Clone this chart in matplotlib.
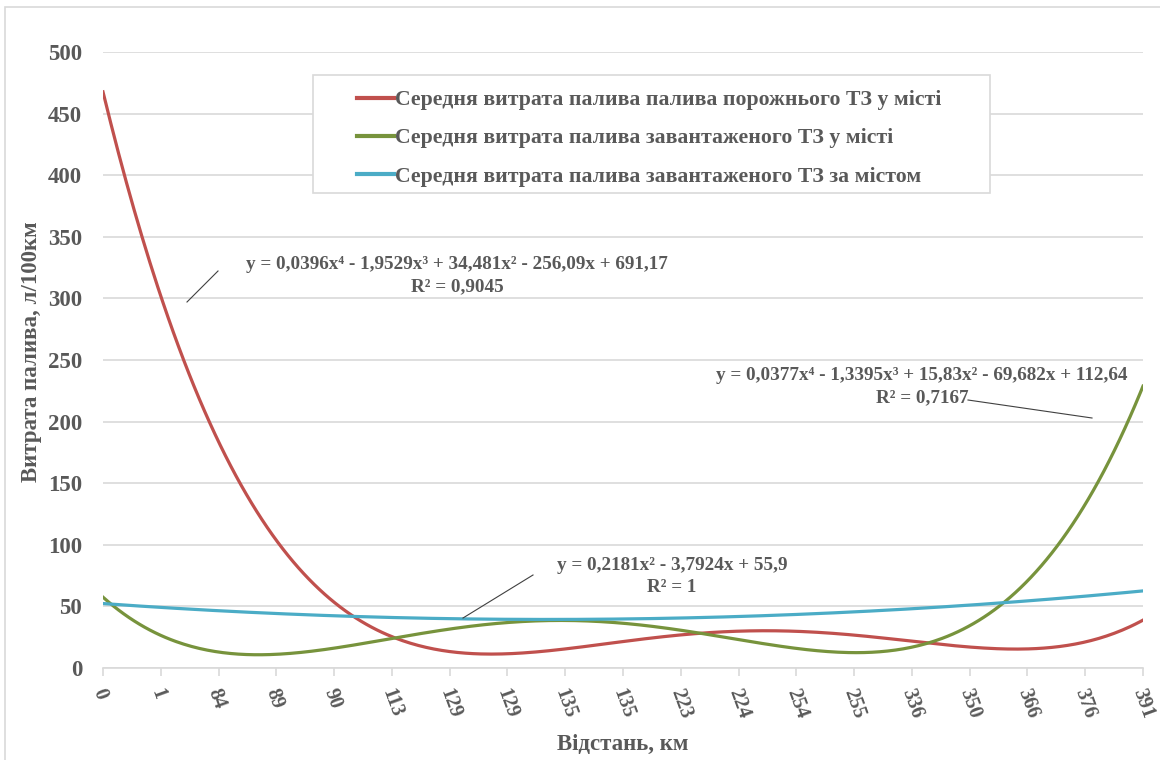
import numpy as np
import matplotlib.pyplot as plt
import matplotlib.transforms as mtransforms
from matplotlib.patches import Rectangle

# Distance labels along the category axis (km)
distances = ["0", "1", "84", "89", "90", "113", "129", "129", "135", "135",
             "223", "224", "254", "255", "336", "350", "366", "376", "391"]

# Trend-line coefficients, highest power first (x = category number 1..n)
empty_city = [0.0396, -1.9529, 34.481, -256.09, 691.17]
loaded_city = [0.0377, -1.3395, 15.83, -69.682, 112.64]
loaded_out = [0.2181, -3.7924, 55.9]

series_names = [
    "Середня витрата палива палива порожнього ТЗ у місті",
    "Середня витрата палива завантаженого ТЗ у місті",
    "Середня витрата палива завантаженого ТЗ за містом",
]
r_squared = ["0,9045", "0,7167", "1"]

RED = "#C0504D"
GREEN = "#77933C"
BLUE = "#4BACC6"
TEXT = "#595959"
GRID = "#D9D9D9"

plt.rcParams["font.family"] = "Liberation Serif"
plt.rcParams["font.weight"] = "bold"

W, H = 1160, 760


def fig_xy(px, py):
    return px / W, 1 - py / H


fig = plt.figure(figsize=(W / 100, H / 100), dpi=100)
ax = fig.add_axes([103 / W, 1 - 668 / H, (1143 - 103) / W, (668 - 52) / H])

# chart-area border (runs off the right and bottom edges)
fig.patches.append(Rectangle(fig_xy(5, 790), 1200 / W, 783 / H, transform=fig.transFigure,
                             fill=False, edgecolor=GRID, linewidth=1.2))

n = len(distances)
xs = np.linspace(1, n, 400)
handles = []
for coefs, color in zip([empty_city, loaded_city, loaded_out], [RED, GREEN, BLUE]):
    line, = ax.plot(xs, np.polyval(coefs, xs), color=color, linewidth=2.3)
    handles.append(line)

ax.set_xlim(1, n)
ax.set_ylim(0, 500)
ax.set_yticks(np.arange(0, 501, 50))
ax.set_xticks(np.arange(1, n + 1))
ax.tick_params(axis="x", length=6, color=GRID, width=1.2, pad=9)
ax.tick_params(axis="y", length=0, labelsize=16.5, labelcolor=TEXT, pad=15)
ax.set_xticklabels(distances, rotation=-70, ha="left", va="center",
                   rotation_mode="anchor", fontsize=14.5, color=TEXT)
shift = mtransforms.ScaledTranslation(-5 / 100, 0, fig.dpi_scale_trans)
for lab in ax.get_xticklabels():
    lab.set_transform(lab.get_transform() + shift)
for lab in ax.get_yticklabels():
    lab.set_fontweight("bold")
ax.grid(axis="y", color=GRID, linewidth=1.2)
ax.set_axisbelow(True)
for side in ["left", "right", "top"]:
    ax.spines[side].set_visible(False)
ax.spines["bottom"].set_color(GRID)
ax.spines["bottom"].set_linewidth(1.2)

fig.text(*fig_xy(32, 352), "Витрата палива, л/100км", fontsize=16.5, color=TEXT,
         fontweight="bold", rotation=90, ha="center", va="center")
fig.text(*fig_xy(623, 744), "Відстань, км", fontsize=16.5, color=TEXT,
         fontweight="bold", ha="center", va="center")

# legend: frame drawn separately so the padding can be uneven
frame = Rectangle(fig_xy(313, 193), (990 - 313) / W, (193 - 75) / H,
                  transform=fig.transFigure, facecolor="white",
                  edgecolor=GRID, linewidth=1.2, zorder=3, clip_on=False)
ax.add_artist(frame)
leg = ax.legend(handles, series_names, loc="upper left",
                bbox_to_anchor=fig_xy(357, 90), bbox_transform=fig.transFigure,
                frameon=False, fontsize=15.7, handlelength=1.7, handletextpad=0.05,
                labelspacing=0.82, borderpad=0, borderaxespad=0)
leg.set_zorder(4)
for t in leg.get_texts():
    t.set_color(TEXT)
    t.set_fontweight("bold")
for h in leg.get_lines():
    h.set_linewidth(3)


def fmt(c):
    return f"{abs(c):g}".replace(".", ",")


def equation(coefs):
    deg = len(coefs) - 1
    sup = {4: "⁴", 3: "³", 2: "²", 1: ""}
    parts = []
    for i, c in enumerate(coefs):
        p = deg - i
        term = fmt(c) + ("x" + sup[p] if p > 0 else "")
        if i == 0:
            parts.append(term)
        else:
            parts.append(("- " if c < 0 else "+ ") + term)
    return "y = " + " ".join(parts)


labels = [
    (empty_city, r_squared[0], (457, 265), ((187, 302), (218, 271))),
    (loaded_city, r_squared[1], (922, 376), ((968, 400), (1092, 418))),
    (loaded_out, r_squared[2], (672, 566), ((463, 618), (533, 575))),
]
for coefs, r2, (cx, cy), (p0, p1) in labels:
    fig.text(*fig_xy(cx, cy), equation(coefs), fontsize=13.8, color=TEXT,
             fontweight="bold", ha="center", va="center")
    fig.text(*fig_xy(cx, cy + 22), "R² = " + r2, fontsize=13.8, color=TEXT,
             fontweight="bold", ha="center", va="center")
    (x0, y0), (x1, y1) = fig_xy(*p0), fig_xy(*p1)
    fig.add_artist(plt.Line2D([x0, x1], [y0, y1], transform=fig.transFigure,
                              color="#404040", linewidth=0.8))

fig.savefig("out.png", dpi=100)
